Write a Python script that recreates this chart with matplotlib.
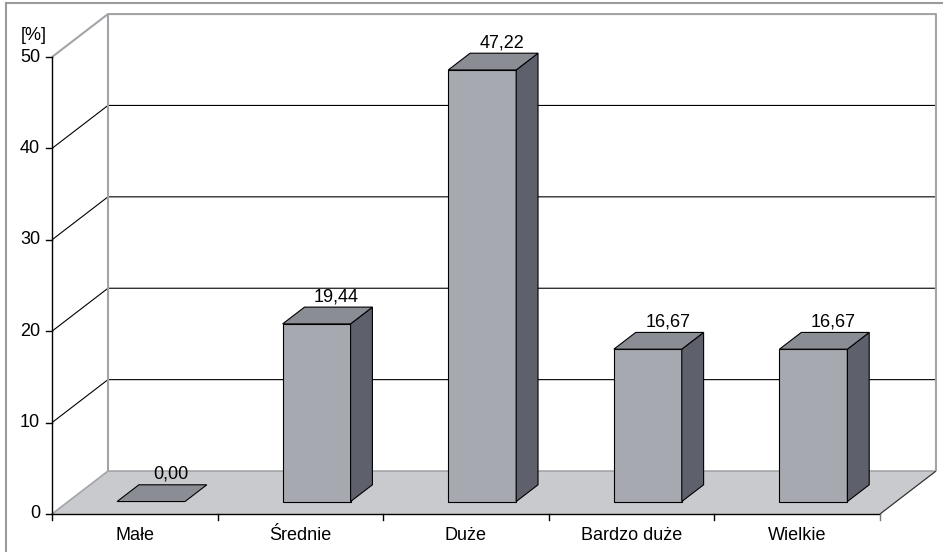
import matplotlib
matplotlib.use('Agg')
import matplotlib.pyplot as plt

# data
categories = ['Małe', 'Średnie', 'Duże', 'Bardzo duże', 'Wielkie']
values = [0.00, 19.44, 47.22, 16.67, 16.67]
yticks = [0, 10, 20, 30, 40, 50]

plt.rcParams['font.family'] = ['Liberation Sans', 'DejaVu Sans']
FS = 13

# pseudo-3D projection: depth z in [0, 1] shifts right and up
DX = 0.338
DY = 4.7
PX_X = 165.6   # pixels per category
PX_Y = 9.14    # pixels per percent


def proj(x, y, z):
    return x + z * DX, y + z * DY


def poly(ax, pts, fc, ec='black', lw=0.8, zorder=1):
    xs, ys = zip(*[proj(*p) for p in pts])
    ax.fill(xs, ys, facecolor=fc, edgecolor=ec, linewidth=lw, zorder=zorder)


def line(ax, pts, color='black', lw=0.8, zorder=2):
    xs, ys = zip(*[proj(*p) for p in pts])
    ax.plot(xs, ys, color=color, linewidth=lw, zorder=zorder, solid_capstyle='butt')


def run():
    fig = plt.figure(figsize=(9.43, 5.52), dpi=100)
    ax = fig.add_axes([0, 0, 1, 1])
    ax.set_xlim(-52 / PX_X, (943 - 52) / PX_X)
    ax.set_ylim((514 - 552) / PX_Y, 514 / PX_Y)
    ax.axis('off')

    n = len(categories)
    ymax = yticks[-1]
    wall_grey = '#a3a4a8'

    # outer frame (top and left only)
    fig.add_artist(plt.Line2D([6 / 943, 6 / 943], [0, 1 - 2.5 / 552], color='#9a9a9a', lw=1.5))
    fig.add_artist(plt.Line2D([6 / 943, 1], [1 - 2.5 / 552, 1 - 2.5 / 552], color='#9a9a9a', lw=1.5))

    # floor
    poly(ax, [(0, 0, 0), (n, 0, 0), (n, 0, 1), (0, 0, 1)], '#c9cacd', ec='none', zorder=1)
    line(ax, [(0, 0, 0), (0, 0, 1), (n, 0, 1)], color=wall_grey, lw=1.2)
    line(ax, [(n, 0, 0), (n, 0, 1)], color='#333333', lw=0.9)

    # grid lines on side and back walls
    for v in yticks[1:-1]:
        line(ax, [(0, v, 0), (0, v, 1), (n, v, 1)], color='black', lw=0.8)
    line(ax, [(0, ymax, 0), (0, ymax, 1), (n, ymax, 1), (n, 0, 1)], color=wall_grey, lw=1.5)
    line(ax, [(0, 0, 1), (0, ymax, 1)], color=wall_grey, lw=1.5)

    # bars
    bw = 0.41
    z0, z1 = 0.29, 0.68
    for i, v in enumerate(values):
        x0 = i + 0.5 - bw / 2
        x1 = i + 0.5 + bw / 2
        if v > 0:
            poly(ax, [(x0, 0, z0), (x1, 0, z0), (x1, v, z0), (x0, v, z0)], '#a7a9b1', zorder=5)
            poly(ax, [(x1, 0, z0), (x1, 0, z1), (x1, v, z1), (x1, v, z0)], '#5e616c', zorder=5)
        poly(ax, [(x0, v, z0), (x1, v, z0), (x1, v, z1), (x0, v, z1)], '#8b8d95', zorder=5)
        lx, ly = proj(i + 0.5, v, z1)
        ax.text(lx - 2 / PX_X, ly + 6 / PX_Y, f'{v:.2f}'.replace('.', ','), ha='center', va='baseline',
                fontsize=FS, zorder=6)

    # value axis
    tick = 6
    ax.plot([0, 0], [-tick / PX_Y, ymax], color='black', lw=1.0, zorder=3)
    for v in yticks:
        ax.plot([-tick / PX_X, 0], [v, v], color='black', lw=1.0, zorder=3)
        ax.text(-12 / PX_X, v, str(v), ha='right', va='center', fontsize=FS)
    ax.text(-31 / PX_X, ymax + 21 / PX_Y, '[%]', ha='left', va='center', fontsize=FS)

    # category axis
    ax.plot([0, n], [0, 0], color='black', lw=1.0, zorder=3)
    for i in range(1, n + 1):
        ax.plot([i, i], [0, -tick / PX_Y], color='black' if i < n else '#777777', lw=1.0, zorder=3)
    for i, c in enumerate(categories):
        ax.text(i + 0.5, -22 / PX_Y, c, ha='center', va='center', fontsize=FS)

    fig.savefig('out.png', dpi=100)


if __name__ == '__main__':
    run()
